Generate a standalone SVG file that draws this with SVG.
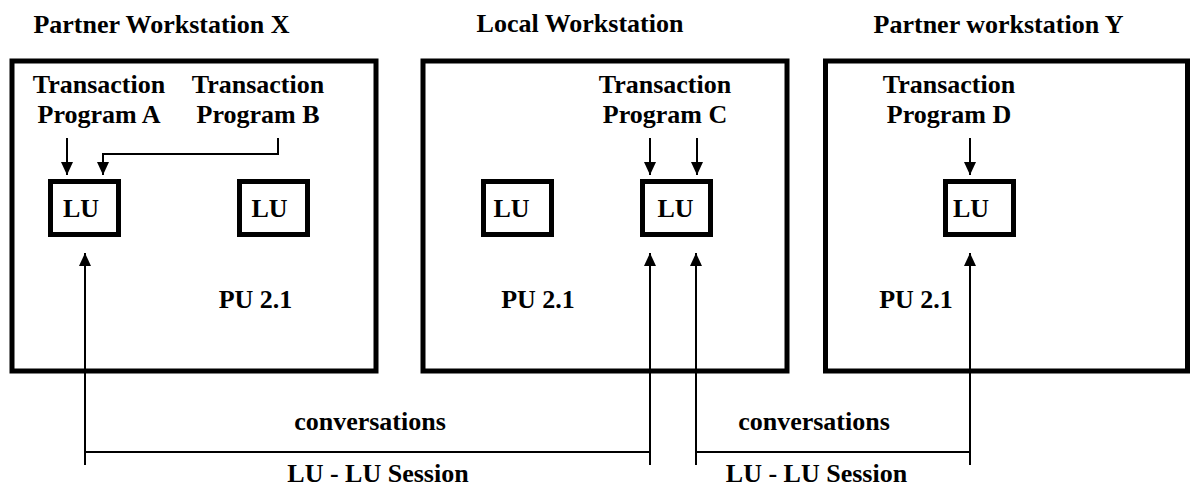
<svg xmlns="http://www.w3.org/2000/svg" width="1191" height="488" viewBox="0 0 1191 488">
  <style>
    text { font-family: "Liberation Serif", "Times New Roman", serif; font-weight: bold; font-size: 26px; fill: #000; text-anchor: middle; }
    .ws { fill: #fff; stroke: #000; stroke-width: 5; }
    .lu { fill: #fff; stroke: #000; stroke-width: 5; }
    .conn { fill: none; stroke: #000; stroke-width: 2; }
  </style>
  <defs>
    <marker id="arrow" markerUnits="userSpaceOnUse" markerWidth="14" markerHeight="13" refX="13" refY="6" orient="auto">
      <path d="M0,0 L13,6 L0,12 z" fill="#000"/>
    </marker>
  </defs>
  <rect width="1191" height="488" fill="#fff"/>

  <g id="ws-x">
    <text x="161.5" y="33">Partner Workstation X</text>
    <rect class="ws" x="12" y="61" width="364" height="310"/>
    <text x="255.5" y="308">PU 2.1</text>
  </g>
  <g id="ws-local">
    <text x="580" y="32">Local Workstation</text>
    <rect class="ws" x="423" y="61" width="364" height="310"/>
    <text x="538" y="308">PU 2.1</text>
  </g>
  <g id="ws-y">
    <text x="998.5" y="33">Partner workstation Y</text>
    <rect class="ws" x="825.5" y="61" width="362" height="310"/>
    <text x="916" y="308">PU 2.1</text>
  </g>

  <g id="tp-a">
    <text x="99" y="93">Transaction</text>
    <text x="99" y="123">Program A</text>
  </g>
  <g id="tp-b">
    <text x="258" y="93">Transaction</text>
    <text x="258" y="123">Program B</text>
  </g>
  <g id="tp-c">
    <text x="665" y="93">Transaction</text>
    <text x="665" y="123">Program C</text>
  </g>
  <g id="tp-d">
    <text x="949" y="93">Transaction</text>
    <text x="949" y="123">Program D</text>
  </g>

  <g id="lu-x1">
    <rect class="lu" x="50.5" y="181.5" width="68" height="53"/>
    <text x="81" y="217">LU</text>
  </g>
  <g id="lu-x2">
    <rect class="lu" x="239.5" y="181.5" width="68" height="53"/>
    <text x="269.5" y="217">LU</text>
  </g>
  <g id="lu-l1">
    <rect class="lu" x="483.5" y="181.5" width="68" height="53"/>
    <text x="511.5" y="217">LU</text>
  </g>
  <g id="lu-l2">
    <rect class="lu" x="642.5" y="181.5" width="68" height="53"/>
    <text x="675.5" y="217">LU</text>
  </g>
  <g id="lu-y">
    <rect class="lu" x="945.5" y="181.5" width="68" height="53"/>
    <text x="971" y="217">LU</text>
  </g>

  <g id="connectors">
    <path class="conn" d="M67,138 V175" marker-end="url(#arrow)"/>
    <path class="conn" d="M278,138 V154 H103 V175" marker-end="url(#arrow)"/>
    <path class="conn" d="M650,138 V175" marker-end="url(#arrow)"/>
    <path class="conn" d="M697,138 V175" marker-end="url(#arrow)"/>
    <path class="conn" d="M970,138 V175" marker-end="url(#arrow)"/>

    <path class="conn" d="M85,465 V253" marker-end="url(#arrow)"/>
    <path class="conn" d="M650,465 V253" marker-end="url(#arrow)"/>
    <path class="conn" d="M85,452 H650"/>
    <path class="conn" d="M696,465 V253" marker-end="url(#arrow)"/>
    <path class="conn" d="M970,465 V253" marker-end="url(#arrow)"/>
    <path class="conn" d="M696,452 H970"/>
  </g>

  <g id="labels">
    <text x="370" y="430">conversations</text>
    <text x="378" y="482">LU - LU Session</text>
    <text x="814" y="430">conversations</text>
    <text x="816.5" y="482">LU - LU Session</text>
  </g>
</svg>
